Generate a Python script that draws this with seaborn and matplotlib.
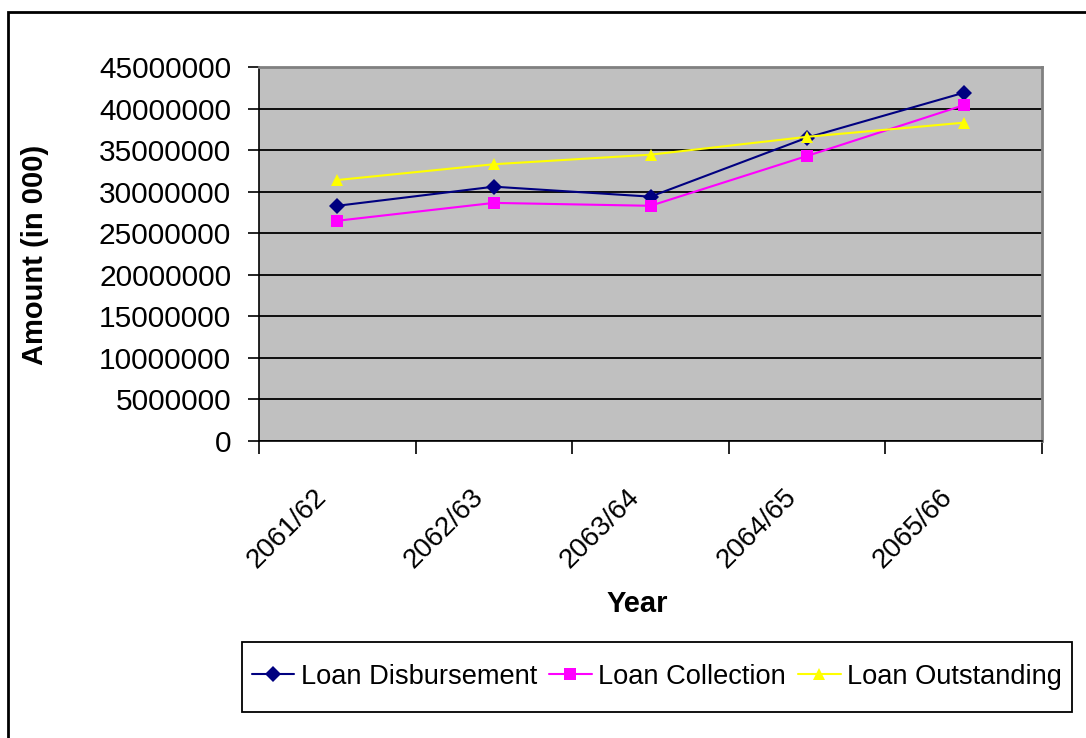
import numpy as np
import pandas as pd
import seaborn as sns
import matplotlib.pyplot as plt
from matplotlib.patches import Rectangle
from matplotlib.ticker import StrMethodFormatter, FixedLocator
from matplotlib.transforms import ScaledTranslation

# --- values ---
years = ["2061/62", "2062/63", "2063/64", "2064/65", "2065/66"]
disbursement = [28300000, 30600000, 29400000, 36500000, 41900000]
collection = [26500000, 28650000, 28300000, 34300000, 40400000]
outstanding = [31400000, 33300000, 34450000, 36600000, 38300000]

series_names = ["Loan Disbursement", "Loan Collection", "Loan Outstanding"]
colors = {"Loan Disbursement": "#000080", "Loan Collection": "#FF00FF",
          "Loan Outstanding": "#FFFF00"}
marks = {"Loan Disbursement": "D", "Loan Collection": "s", "Loan Outstanding": "^"}

df = pd.concat([
    pd.DataFrame({"year": years, "pos": range(len(years)), "amount": vals, "series": name})
    for name, vals in zip(series_names, [disbursement, collection, outstanding])
], ignore_index=True)

sns.set_theme(style="white")
plt.rcParams["font.family"] = ["Liberation Sans", "DejaVu Sans"]
plt.rcParams.update({"text.color": "black", "axes.labelcolor": "black",
                     "xtick.color": "black", "ytick.color": "black"})

W, H = 1086, 738
fig = plt.figure(figsize=(W / 100, H / 100), dpi=100)
ax = fig.add_axes([259 / W, 1 - 441 / H, 783 / W, 374 / H])
ax.set_facecolor("#C0C0C0")

sns.lineplot(data=df, x="pos", y="amount", hue="series", style="series",
             palette=colors, markers=marks, dashes=False, markersize=8,
             markeredgewidth=0, linewidth=1.5, ax=ax)

ax.set_xlim(-0.5, len(years) - 0.5)
ax.set_ylim(0, 45000000)
ax.set_yticks(np.arange(0, 45000001, 5000000))
ax.yaxis.set_major_formatter(StrMethodFormatter("{x:.0f}"))
ax.yaxis.grid(True, color="black", linewidth=1.3)
ax.set_axisbelow(True)

ax.set_xticks(range(len(years)))
ax.set_xticklabels(years, rotation=45, ha="right", va="top", rotation_mode="anchor")
ax.xaxis.set_minor_locator(FixedLocator(np.arange(-0.5, len(years), 1.0)))
ax.tick_params(axis="x", which="major", length=0, pad=31, labelsize=20)
ax.tick_params(axis="x", which="minor", length=9, width=1.2, color="black",
               direction="out", bottom=True)
ax.tick_params(axis="y", length=8, width=1.2, color="black", direction="out",
               left=True, labelsize=21.5, pad=12)

# nudge the rotated year labels left (after tick_params, which resets transforms)
shift = ScaledTranslation(-24 / 100, 0, fig.dpi_scale_trans)
for lab in ax.get_xticklabels():
    lab.set_transform(lab.get_transform() + shift)

for side in ["left", "bottom"]:
    ax.spines[side].set_color("black")
    ax.spines[side].set_linewidth(1.2)
for side in ["top", "right"]:
    ax.spines[side].set_color("#808080")
    ax.spines[side].set_linewidth(2)

ax.set_xlabel("Year", fontsize=21, fontweight="bold")
ax.xaxis.set_label_coords((637 - 259) / 783, (441 - 590) / 374)
ax.set_ylabel("Amount (in 000)", fontsize=21, fontweight="bold")
ax.yaxis.set_label_coords((49 - 259) / 783, 0.5 + (441 - 255 - 187) / 374)

handles, labels = ax.get_legend_handles_labels()
ax.legend_.remove()
leg = fig.legend(handles, labels, loc="center", bbox_to_anchor=(657 / W, 1 - 677 / H),
                 ncol=3, fontsize=19.6, frameon=False,
                 handlelength=1.55, handletextpad=0.25, columnspacing=0.45,
                 borderaxespad=0)

# legend box and outer chart border
fig.add_artist(Rectangle((242 / W, 1 - 712 / H), 830 / W, 70 / H,
                         transform=fig.transFigure, fill=False,
                         edgecolor="black", linewidth=1.3))
fig.add_artist(Rectangle((8 / W, -0.05), 1.1, 1 - 12 / H + 0.05,
                         transform=fig.transFigure, fill=False,
                         edgecolor="black", linewidth=2))

plt.savefig("out.png", dpi=100)
